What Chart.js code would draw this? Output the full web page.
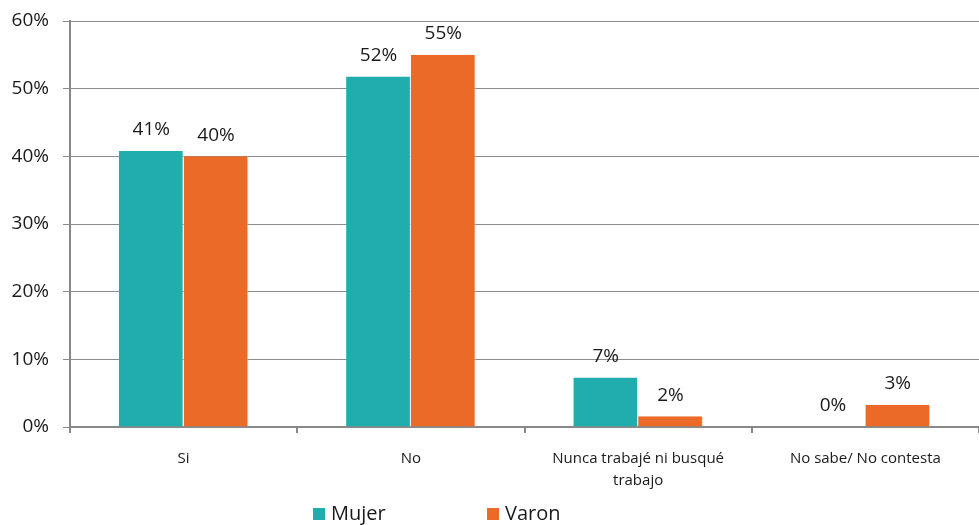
<!DOCTYPE html>
<html>
<head>
<meta charset="utf-8">
<script src="https://cdn.jsdelivr.net/npm/chart.js@4.4.1/dist/chart.umd.min.js"></script>
<style>
  html, body { margin: 0; padding: 0; background: #fff; }
  #wrap { width: 979px; height: 525px; position: relative; }
</style>
</head>
<body>
<div id="wrap"><canvas id="chart" width="979" height="525"></canvas></div>
<script>
const categories = ['Si', 'No', ['Nunca trabajé ni busqué', 'trabajo'], 'No sabe/ No contesta'];
const seriesNames = ['Mujer', 'Varon'];
const mujer = [40.8, 51.8, 7.3, 0];
const varon = [40.0, 55.0, 1.6, 3.3];
const yTicks = [0, 10, 20, 30, 40, 50, 60];

const colors = ['#21acae', '#ec6a27'];
const FONT = "'Open Sans', sans-serif";

// value labels above each bar
const barLabels = {
  id: 'barLabels',
  afterDatasetsDraw(chart) {
    const ctx = chart.ctx;
    ctx.save();
    ctx.font = '19px ' + FONT;
    ctx.fillStyle = '#1a1a1a';
    ctx.textAlign = 'center';
    ctx.textBaseline = 'middle';
    chart.data.datasets.forEach((ds, i) => {
      chart.getDatasetMeta(i).data.forEach((bar, j) => {
        ctx.fillText(Math.round(ds.data[j]) + '%', bar.x, bar.y - 21);
      });
    });
    ctx.restore();
  }
};

// legend at the bottom, wide gap between entries
const bottomLegend = {
  id: 'bottomLegend',
  afterDraw(chart) {
    const ctx = chart.ctx;
    const positions = [313, 487];
    const y = 514;
    ctx.save();
    ctx.font = '20px ' + FONT;
    ctx.textBaseline = 'middle';
    ctx.textAlign = 'left';
    chart.data.datasets.forEach((ds, i) => {
      ctx.fillStyle = ds.backgroundColor;
      ctx.fillRect(positions[i], y - 6, 12, 12);
      ctx.fillStyle = '#1a1a1a';
      ctx.fillText(ds.label, positions[i] + 18, y);
    });
    ctx.restore();
  }
};

new Chart(document.getElementById('chart'), {
  type: 'bar',
  data: {
    labels: categories,
    datasets: [
      { label: seriesNames[0], data: mujer, backgroundColor: colors[0], borderColor: '#e8f4f4', borderWidth: { right: 1 } },
      { label: seriesNames[1], data: varon, backgroundColor: colors[1], borderColor: '#f6d2bf', borderWidth: { right: 1 } }
    ]
  },
  options: {
    responsive: false,
    animation: false,
    layout: { padding: { top: 21, right: 0, bottom: 19, left: 0 } },
    datasets: { bar: { categoryPercentage: 0.57, barPercentage: 1.0 } },
    plugins: {
      legend: { display: false },
      tooltip: { enabled: false }
    },
    scales: {
      x: {
        grid: { offset: true, drawOnChartArea: false, tickLength: 6, color: '#888', lineWidth: 2 },
        border: { color: '#888', width: 2 },
        ticks: { color: '#1a1a1a', font: { family: FONT, size: 15, lineHeight: 1.5 }, padding: 14, maxRotation: 0 }
      },
      y: {
        min: 0,
        max: 60,
        afterFit(scale) {
          scale.width = 70;
          scale.paddingTop = 0;
          scale.paddingBottom = 0;
        },
        afterBuildTicks(scale) { scale.ticks = yTicks.map(v => ({ value: v })); },
        grid: { color: '#8c8c8c', lineWidth: 1, tickLength: 7 },
        border: { color: '#888', width: 2 },
        ticks: {
          color: '#1a1a1a',
          font: { family: FONT, size: 19 },
          padding: 14,
          callback: v => v + '%'
        }
      }
    }
  },
  plugins: [barLabels, bottomLegend]
});
</script>
</body>
</html>
